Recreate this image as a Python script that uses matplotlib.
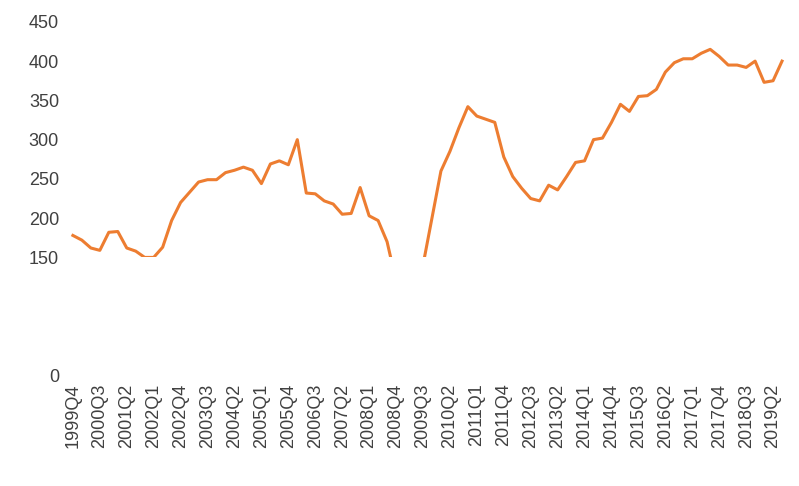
import numpy as np
import matplotlib.pyplot as plt
from matplotlib.patches import Rectangle

plt.rcParams["font.family"] = ["Liberation Sans", "DejaVu Sans"]

values = [178, 172, 162, 159, 182, 183, 162, 158, 150, 150, 163, 197, 220, 233,
          246, 249, 249, 258, 261, 265, 261, 244, 269, 273, 268, 300, 232, 231,
          222, 218, 205, 206, 239, 203, 197, 170, 120, 90, 100, 140, 200, 260,
          285, 315, 342, 330, 326, 322, 278, 253, 238, 225, 222, 242, 236, 253,
          271, 273, 300, 302, 322, 345, 336, 355, 356, 364, 386, 398, 403, 403,
          410, 415, 406, 395, 395, 392, 400, 373, 375, 400]
quarters = []
y, q = 1999, 4
for _ in values:
    quarters.append(f"{y}Q{q}")
    q += 1
    if q > 4:
        q, y = 1, y + 1

x = np.arange(len(values))

fig = plt.figure(figsize=(7.99, 4.86), dpi=100)
ax = fig.add_axes([0.08, 0.228, 0.91, 0.727])
line, = ax.plot(x, values, color="#ED7D31", lw=2.2)
# the axis shows nothing below 150: clip the line there
clip = Rectangle((-1, 150), len(values) + 2, 400, transform=ax.transData)
line.set_clip_path(clip)
ax.set_ylim(0, 450)
ax.set_yticks([0, 150, 200, 250, 300, 350, 400, 450])
ax.set_xlim(-1, len(values))
ax.set_xticks(x[::3])
ax.set_xticklabels(quarters[::3], rotation=90)
ax.tick_params(length=0, labelsize=13, colors="#404040")
ax.tick_params(axis="x", pad=6)
for s in ax.spines.values():
    s.set_visible(False)
fig.savefig("out.png")
